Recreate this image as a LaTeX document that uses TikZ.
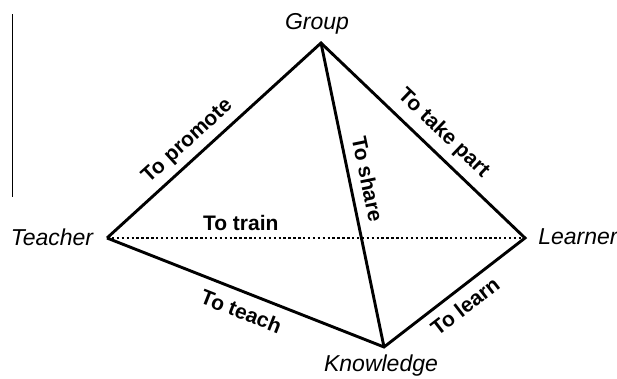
\documentclass[tikz,border=0pt]{standalone}
\usepackage{fontspec}
\setmainfont{Liberation Sans}
\begin{document}
\begin{tikzpicture}[x=1pt,y=-1pt,
  edge/.style={line width=2.9pt, line join=miter},
  dotline/.style={line width=2.4pt, dash pattern=on 2.4pt off 2.5pt},
  vlab/.style={font=\fontsize{23}{25}\selectfont\itshape, inner sep=0pt},
  elab/.style={font=\fontsize{21}{23}\selectfont\bfseries, sloped, inner sep=0pt}]
\useasboundingbox (0,0) rectangle (617,378);
\coordinate (G) at (321,43);
\coordinate (T) at (107,238);
\coordinate (L) at (525,238);
\coordinate (K) at (384,347);
\coordinate (bartop) at (12.5,14);
\coordinate (barbot) at (12.5,197);
\draw[line width=1.3pt] (bartop) -- (barbot);
\node[vlab] (gl) at (317,24) {Group};
\node[vlab] (tl) at (52,237) {Teacher};
\node[vlab] (ll) at (578,237) {Learner};
\node[vlab] (kl) at (381,366) {Knowledge};
\draw[dotline] (T) -- node[elab, pos=0.32, above=6pt] {To train} (L);
\draw[edge] (T) -- node[elab, pos=0.43, above=6pt] {To promote} (G)
  -- node[elab, pos=0.535, above=8pt] {To take part} (L)
  -- node[elab, pos=0.5, below=8pt] {To learn} (K)
  -- node[elab, pos=0.49, below=10pt] {To teach} (T);
\draw[edge] (G) -- node[elab, pos=0.46, above=9pt] {To share} (K);
\end{tikzpicture}
\end{document}
